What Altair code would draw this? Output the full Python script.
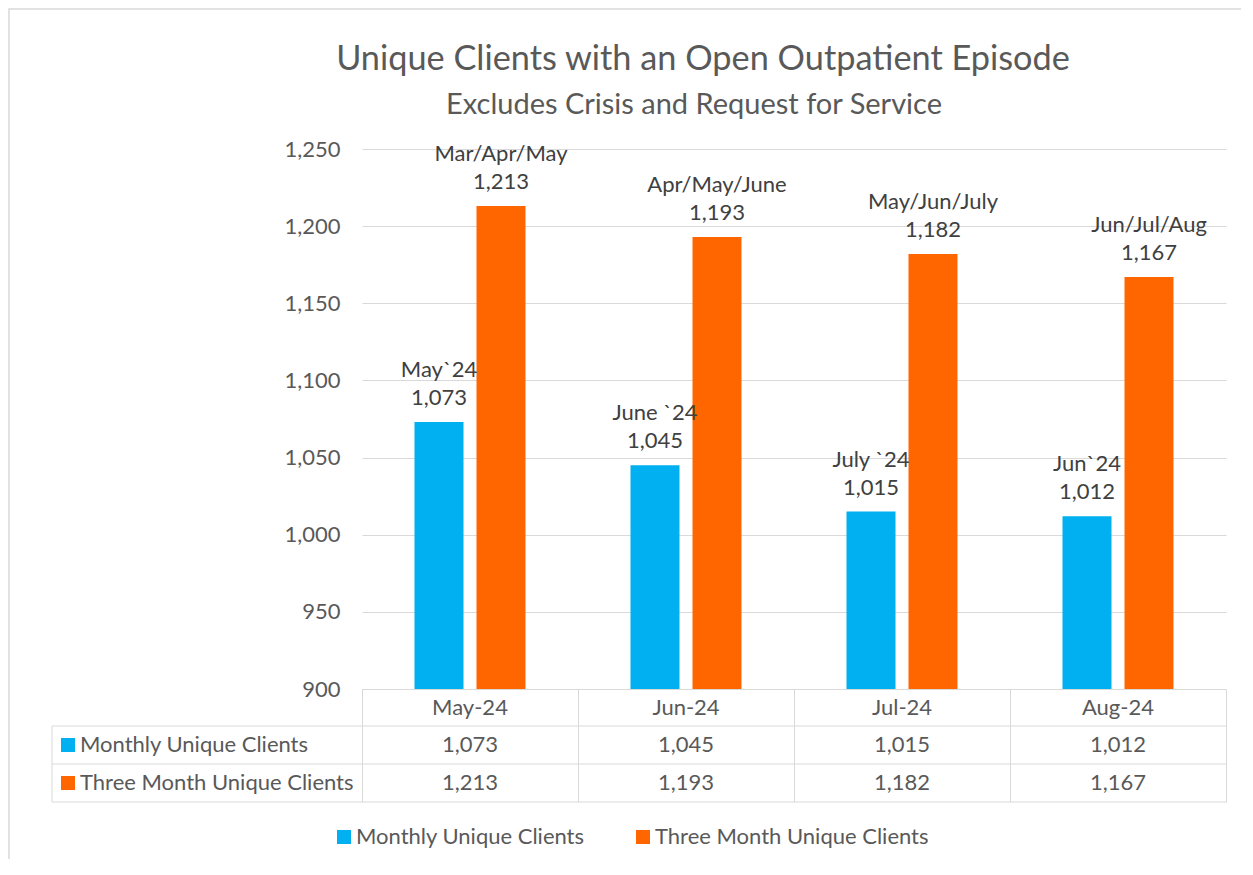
import altair as alt
import pandas as pd

title_text = "Unique Clients with an Open Outpatient Episode"
subtitle_text = "Excludes Crisis and Request for Service"
months = ["May-24", "Jun-24", "Jul-24", "Aug-24"]
series_names = ["Monthly Unique Clients", "Three Month Unique Clients"]
monthly = [1073, 1045, 1015, 1012]
three_month = [1213, 1193, 1182, 1167]
monthly_labels = ["May`24", "June `24", "July `24", "Jun`24"]
three_labels = ["Mar/Apr/May", "Apr/May/June", "May/Jun/July", "Jun/Jul/Aug"]
y_ticks = [900, 950, 1000, 1050, 1100, 1150, 1200, 1250]
colors = ["#00B0F0", "#FF6600"]

rows = []
for i, m in enumerate(months):
    rows.append({"month": m, "series": series_names[0], "value": monthly[i],
                 "txt": f"{monthly_labels[i]}\n{monthly[i]:,}", "num": f"{monthly[i]:,}"})
    rows.append({"month": m, "series": series_names[1], "value": three_month[i],
                 "txt": f"{three_labels[i]}\n{three_month[i]:,}", "num": f"{three_month[i]:,}"})
df = pd.DataFrame(rows)
one = pd.DataFrame({"k": [0]})

FONT = "Lato"
GRID = "#d9d9d9"
TXT = "#595959"
FS = 22

W, H = 864, 540

x_axis = alt.Axis(labels=False, ticks=True, tickBand="extent", tickSize=113,
                  tickColor=GRID, domainColor=GRID, tickWidth=1, grid=False)
x_enc = alt.X("month:N", sort=months, title=None,
              scale=alt.Scale(paddingInner=0, paddingOuter=0), axis=x_axis)
y_enc = alt.Y("value:Q", title=None,
              scale=alt.Scale(domain=[900, 1250], nice=False, zero=False),
              axis=alt.Axis(values=y_ticks, format=",d", ticks=False, domain=False,
                            gridColor=GRID, labelFontSize=FS, labelColor=TXT,
                            labelFont=FONT, labelPadding=22))
xoff_enc = alt.XOffset("series:N", sort=series_names,
                       scale=alt.Scale(paddingInner=0.2097, paddingOuter=0.8468))
color_enc = alt.Color("series:N", sort=series_names,
                      scale=alt.Scale(domain=series_names, range=colors),
                      legend=alt.Legend(title=None, orient="none", legendX=-29, legendY=677,
                                        direction="horizontal", symbolType="square",
                                        symbolSize=196, symbolStrokeWidth=0,
                                        labelFontSize=FS, labelColor=TXT, labelFont=FONT,
                                        labelLimit=0, columnPadding=47, labelOffset=1))

base = alt.Chart(df)

bars = base.mark_bar().encode(x=x_enc, xOffset=xoff_enc, y=y_enc,
                              y2=alt.datum(900), color=color_enc)

bar_labels = base.mark_text(baseline="bottom", align="center", dy=-40, fontSize=FS,
                            font=FONT, color="#404040", lineBreak="\n", lineHeight=28).encode(
    x=x_enc, xOffset=xoff_enc, y=y_enc, text="txt:N")

header = base.transform_filter(alt.datum.series == series_names[0]).mark_text(
    fontSize=FS, font=FONT, color=TXT, baseline="middle").encode(
    x=x_enc, y=alt.value(559), text="month:N")
row1 = base.transform_filter(alt.datum.series == series_names[0]).mark_text(
    fontSize=FS, font=FONT, color=TXT, baseline="middle").encode(
    x=x_enc, y=alt.value(596), text="num:N")
row2 = base.transform_filter(alt.datum.series == series_names[1]).mark_text(
    fontSize=FS, font=FONT, color=TXT, baseline="middle").encode(
    x=x_enc, y=alt.value(634), text="num:N")

names = pd.DataFrame({"series": series_names, "ypos": [596, 634]})
row_sq = alt.Chart(names).mark_square(size=196, opacity=1, strokeWidth=0).encode(
    x=alt.value(-294), y=alt.Y("ypos:Q", scale=None), color=color_enc)
row_names = alt.Chart(names).mark_text(align="left", baseline="middle", fontSize=FS,
                                       font=FONT, color=TXT).encode(
    x=alt.value(-282), y=alt.Y("ypos:Q", scale=None), text="series:N")

line_ys = pd.DataFrame({"yy": [577, 615, 653]})
hlines = alt.Chart(line_ys).mark_rule(color=GRID, strokeWidth=1).encode(
    x=alt.value(-310), x2=alt.value(W), y=alt.Y("yy:Q", scale=None))
vline = alt.Chart(one).mark_rule(color=GRID, strokeWidth=1).encode(
    x=alt.value(-310), y=alt.value(577), y2=alt.value(653))

border = alt.Chart(one).mark_rect(fill=None, stroke=GRID, strokeWidth=1.5).encode(
    x=alt.value(-353), y=alt.value(-140), x2=alt.value(W + 400), y2=alt.value(H + 400))

titles = pd.DataFrame({"t": [title_text, subtitle_text], "tx": [341, 332],
                       "ty": [-79, -35], "fs": [34.3, 29]})
title_marks = alt.Chart(titles).mark_text(align="center", baseline="alphabetic",
                                          font=FONT, color=TXT).encode(
    x=alt.X("tx:Q", scale=None), y=alt.Y("ty:Q", scale=None), text="t:N",
    size=alt.Size("fs:Q", scale=None, legend=None))

chart = alt.layer(border, bars, bar_labels, header, row1, row2, hlines, vline,
                  row_sq, row_names, title_marks).properties(
    width=W, height=H,
    background="white",
    autosize=alt.AutoSizeParams(type="none"),
    padding={"left": 354, "top": 141, "right": 15, "bottom": 170},
).configure_view(strokeWidth=0, stroke="transparent")

chart.save("out.html", embed_options={"renderer": "svg", "actions": False})
